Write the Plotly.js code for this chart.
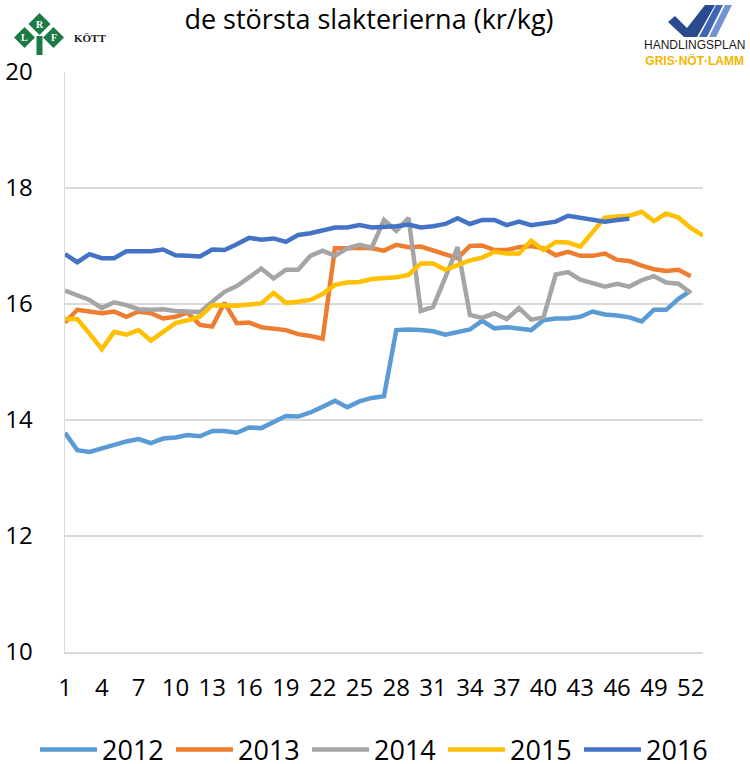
<!DOCTYPE html>
<html>
<head>
<meta charset="utf-8">
<script src="https://cdn.plot.ly/plotly-3.0.1.min.js"></script>
<style>html,body{margin:0;padding:0;background:#fff;}#chart{width:750px;height:764px;}</style>
</head>
<body>
<div id="chart"></div>
<script>
var weeks = [1,2,3,4,5,6,7,8,9,10,11,12,13,14,15,16,17,18,19,20,21,22,23,24,25,26,27,28,29,30,31,32,33,34,35,36,37,38,39,40,41,42,43,44,45,46,47,48,49,50,51,52,53];
var tickWeeks = [1,4,7,10,13,16,19,22,25,28,31,34,37,40,43,46,49,52];
var seriesNames = ['2012','2013','2014','2015','2016'];

var v2012 = [13.78,13.48,13.45,13.51,13.59,13.63,13.67,13.60,13.68,13.70,13.74,13.72,13.81,13.81,13.78,13.87,13.86,13.97,14.07,14.06,14.13,14.23,14.33,14.22,14.32,14.38,14.41,15.55,15.56,15.55,15.53,15.47,15.52,15.56,15.71,15.58,15.60,15.58,15.55,15.72,15.75,15.75,15.78,15.87,15.82,15.80,15.77,15.70,15.90,15.90,16.09,16.23];
var v2013 = [15.68,15.90,15.87,15.84,15.87,15.78,15.87,15.84,15.75,15.78,15.85,15.64,15.61,16.02,15.67,15.68,15.60,15.57,15.55,15.48,15.45,15.40,16.96,16.96,16.97,16.96,16.92,17.02,16.98,16.99,16.93,16.87,16.79,17.00,17.01,16.93,16.93,16.98,17.00,16.96,16.84,16.90,16.83,16.83,16.87,16.76,16.74,16.66,16.60,16.57,16.59,16.48];
var v2014 = [16.23,16.16,16.07,15.93,16.03,15.98,15.91,15.90,15.91,15.88,15.87,15.86,16.04,16.21,16.31,16.46,16.61,16.44,16.59,16.59,16.83,16.92,16.83,16.96,17.02,16.97,17.45,17.26,17.48,15.88,15.95,16.46,16.98,15.81,15.76,15.84,15.74,15.93,15.73,15.77,16.51,16.55,16.42,16.36,16.30,16.35,16.30,16.41,16.48,16.37,16.35,16.19];
var v2015 = [15.74,15.74,15.49,15.22,15.52,15.47,15.55,15.37,15.52,15.67,15.72,15.78,15.98,15.97,15.97,15.99,16.01,16.19,16.02,16.04,16.07,16.17,16.33,16.37,16.38,16.43,16.44,16.46,16.50,16.70,16.70,16.59,16.67,16.75,16.80,16.90,16.87,16.87,17.09,16.93,17.07,17.06,16.99,17.25,17.49,17.51,17.52,17.59,17.43,17.56,17.49,17.31,17.18];
var v2016 = [16.86,16.72,16.86,16.79,16.79,16.91,16.91,16.91,16.94,16.84,16.83,16.82,16.94,16.93,17.03,17.14,17.11,17.13,17.07,17.19,17.22,17.28,17.32,17.32,17.36,17.32,17.33,17.34,17.37,17.32,17.34,17.38,17.48,17.38,17.45,17.45,17.36,17.42,17.36,17.39,17.42,17.52,17.49,17.46,17.42,17.45,17.47];

var allValues = [v2012, v2013, v2014, v2015, v2016];
var colors = ['#5B9BD5','#ED7D31','#A5A5A5','#FFC000','#4472C4'];

var traces = allValues.map(function(vals, i){
  return {
    type: 'scatter', mode: 'lines',
    name: seriesNames[i],
    x: weeks.slice(0, vals.length),
    y: vals,
    line: {color: colors[i], width: 4.5},
    hoverinfo: 'x+y+name'
  };
});

// plot area in pixels: left 65, right 703, top 72, bottom 652
var L = 65, R = 703, T = 72, B = 652;
function px(x){ return (x - L) / (R - L); }
function py(y){ return (B - y) / (B - T); }
function poly(pts){
  return 'M' + pts.map(function(p){ return px(p[0]).toFixed(5) + ',' + py(p[1]).toFixed(5); }).join('L') + 'Z';
}
function diamond(cx, cy, h){ return poly([[cx, cy-h],[cx+h, cy],[cx, cy+h],[cx-h, cy]]); }

var green = '#1E7A45';
var shapes = [
  {type:'path', xref:'paper', yref:'paper', path: poly([[36.5,36],[42.5,36],[42.5,55],[36.5,55]]), fillcolor: green, line:{width:0}},
  {type:'path', xref:'paper', yref:'paper', path: diamond(39.5,24,11), fillcolor: green, line:{width:0}},
  {type:'path', xref:'paper', yref:'paper', path: diamond(24.5,37.5,10.5), fillcolor: green, line:{width:0}},
  {type:'path', xref:'paper', yref:'paper', path: diamond(53.5,37.5,10.5), fillcolor: green, line:{width:0}},
  // check mark logo
  {type:'path', xref:'paper', yref:'paper', path: poly([[668,22],[675,16],[687,28],[705,5],[715,5],[697,37],[684,37]]), fillcolor:'#2A4A8E', line:{width:0}},
  {type:'path', xref:'paper', yref:'paper', path: poly([[716,5],[723,5],[707,37],[699,37]]), fillcolor:'#3F66B3', line:{width:0}},
  {type:'path', xref:'paper', yref:'paper', path: poly([[725,5],[732,5],[716,37],[709,37]]), fillcolor:'#7393D3', line:{width:0}}
];

function ann(text, x, y, size, color, family, extra){
  var a = {text: text, xref:'paper', yref:'paper', x: px(x), y: py(y), xanchor:'center', yanchor:'middle',
    showarrow:false, font:{size:size, color:color, family:family}};
  if (extra) for (var k in extra) a[k] = extra[k];
  return a;
}
var annotations = [
  ann('<b>R</b>', 39.5, 24, 10, '#ffffff', 'Liberation Serif'),
  ann('<b>L</b>', 24.5, 37.5, 10, '#ffffff', 'Liberation Serif'),
  ann('<b>F</b>', 53.5, 37.5, 10, '#ffffff', 'Liberation Serif'),
  ann('<b>KÖTT</b>', 90, 37.5, 11, '#1a1a1a', 'Liberation Serif'),
  ann('HANDLINGSPLAN<br><span style="color:#F2B700"><b>GRIS·NÖT·LAMM</b></span>', 694, 53, 12, '#1a1a1a', 'Liberation Sans, Arial, sans-serif')
];

var layout = {
  width: 750, height: 764,
  margin: {l: L, r: 750 - R, t: T, b: 764 - B, pad: 0, autoexpand: false},
  paper_bgcolor: '#ffffff', plot_bgcolor: '#ffffff',
  font: {family: 'Open Sans, sans-serif', color: '#000000'},
  title: {text: 'de största slakterierna (kr/kg)', font: {size: 27, family: 'Open Sans', color: '#000000'},
          x: 369/750, xanchor: 'center', xref: 'container', y: 1 - 20/764, yanchor: 'middle', yref: 'container'},
  xaxis: {range: [1, 53], tickmode: 'array', tickvals: tickWeeks, ticktext: tickWeeks.map(String),
          showgrid: false, zeroline: false, showline: true, linecolor: '#D9D9D9', linewidth: 1.5,
          ticks: '', tickfont: {size: 24, color: '#000000'}, ticklabelstandoff: 14, fixedrange: true},
  yaxis: {range: [10, 20], tickvals: [10,12,14,16,18,20], showgrid: true, gridcolor: '#D9D9D9', gridwidth: 1.5,
          zeroline: false, showline: true, linecolor: '#D9D9D9', linewidth: 1.5,
          ticks: '', tickfont: {size: 24, color: '#000000'}, ticklabelstandoff: 26, fixedrange: true},
  showlegend: true,
  legend: {orientation: 'h', xref: 'paper', x: px(35), xanchor: 'left', yref: 'paper', y: py(750), yanchor: 'middle',
           font: {size: 27, color: '#000000'}, itemwidth: 57, entrywidth: 64, entrywidthmode: 'pixels',
           bgcolor: 'rgba(0,0,0,0)'},
  shapes: shapes,
  annotations: annotations
};

Plotly.newPlot('chart', traces, layout, {displayModeBar: false, staticPlot: true});
</script>
</body>
</html>
